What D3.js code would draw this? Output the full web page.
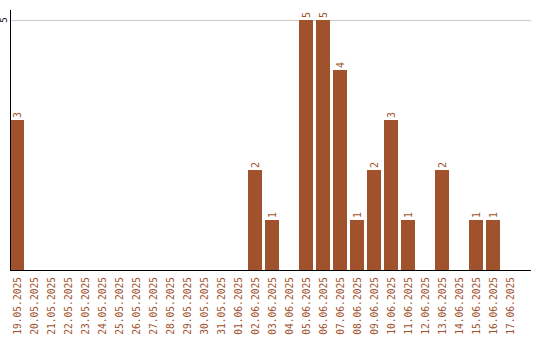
<!DOCTYPE html>
<html>
<head>
<meta charset="utf-8">
<script src="https://cdn.jsdelivr.net/npm/d3@7"></script>
<style>
  body { margin: 0; background: #fff; }
  svg { display: block; }
  text { font-family: "DejaVu Sans Mono", monospace; }
</style>
</head>
<body>
<script>
const dates = ["19.05.2025","20.05.2025","21.05.2025","22.05.2025","23.05.2025","24.05.2025",
  "25.05.2025","26.05.2025","27.05.2025","28.05.2025","29.05.2025","30.05.2025","31.05.2025",
  "01.06.2025","02.06.2025","03.06.2025","04.06.2025","05.06.2025","06.06.2025","07.06.2025",
  "08.06.2025","09.06.2025","10.06.2025","11.06.2025","12.06.2025","13.06.2025","14.06.2025",
  "15.06.2025","16.06.2025","17.06.2025"]
const counts = [3,0,0,0,0,0,0,0,0,0,0,0,0,0,2,1,0,5,5,4,1,2,3,1,0,2,0,1,1,0]
const yTicks = [5]

const width = 540, height = 340
const margin = { top: 10, left: 10, bottom: 70, right: 9 }
const color = "#a0522d"

const svg = d3.select("body").append("svg")
  .attr("width", width).attr("height", height)

const x = d3.scaleBand()
  .domain(dates)
  .range([margin.left, margin.left + 17 * dates.length - 3])
  .paddingInner(3 / 17)
  .paddingOuter(0)

const y = d3.scaleLinear()
  .domain([0, 5])
  .range([height - margin.bottom, 20])

// gridline
svg.append("g").selectAll("line").data(yTicks).join("line")
  .attr("x1", margin.left).attr("x2", width - margin.right)
  .attr("y1", d => y(d) + 0.5).attr("y2", d => y(d) + 0.5)
  .attr("stroke", "#ccc")

// bars
svg.append("g").selectAll("rect").data(counts).join("rect")
  .attr("x", (d, i) => x(dates[i]))
  .attr("width", x.bandwidth())
  .attr("y", d => y(d))
  .attr("height", d => y(0) - y(d))
  .attr("fill", color)

// value labels
svg.append("g").selectAll("text").data(counts.map((v, i) => ({ v, d: dates[i] })).filter(o => o.v > 0))
  .join("text")
  .attr("transform", o => `translate(${x(o.d) + x.bandwidth() / 2 + 3.5},${y(o.v) - 2}) rotate(-90)`)
  .attr("font-size", 10)
  .attr("fill", color)
  .text(o => o.v)

// y axis
svg.append("line")
  .attr("x1", margin.left + 0.5).attr("x2", margin.left + 0.5)
  .attr("y1", margin.top).attr("y2", y(0))
  .attr("stroke", "#000")
svg.append("g").selectAll("text").data(yTicks).join("text")
  .attr("transform", d => `translate(7,${y(d)}) rotate(-90)`)
  .attr("text-anchor", "middle")
  .attr("font-size", 9)
  .attr("fill", "#000")
  .text(d => d)

// x axis
svg.append("line")
  .attr("x1", margin.left).attr("x2", width - margin.right)
  .attr("y1", y(0) + 0.5).attr("y2", y(0) + 0.5)
  .attr("stroke", "#000")

svg.append("g").selectAll("text").data(dates).join("text")
  .attr("transform", d => `translate(${x(d) + x.bandwidth() / 2 + 3.5},${y(0) + 7}) rotate(-90)`)
  .attr("text-anchor", "end")
  .attr("font-size", 9.6)
  .attr("fill", color)
  .text(d => d)
</script>
</body>
</html>
